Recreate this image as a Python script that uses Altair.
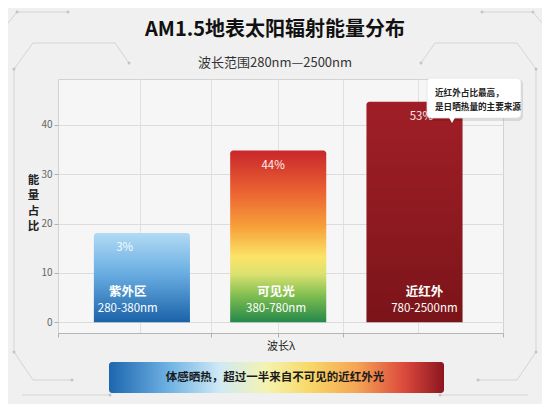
import altair as alt
import pandas as pd

FONT = "Noto Sans CJK SC"

# ---- data ----
regions = ["紫外区", "可见光", "近红外"]
ranges = ["280-380nm", "380-780nm", "780-2500nm"]
bar_heights = [18.1, 34.8, 44.7]
pct_labels = ["3%", "44%", "53%"]
y_ticks = [0, 10, 20, 30, 40]
title_text = "AM1.5地表太阳辐射能量分布"
subtitle_text = "波长范围280nm—2500nm"
y_title = "能量占比"
x_title = "波长λ"
note_lines = ["近红外占比最高，", "是日晒热量的主要来源"]
banner_text = "体感晒热，超过一半来自不可见的近红外光"

df = pd.DataFrame({"region": regions, "range": ranges, "value": bar_heights, "pct": pct_labels})
one = pd.DataFrame({"title": [title_text], "subtitle": [subtitle_text],
                    "note": ["\n".join(note_lines)], "banner": [banner_text]})

W, H = 445, 254
OX, OY = 58, 79  # plot origin on the page (used only for decorative frame)

xband = alt.X("region:N", sort=regions,
              scale=alt.Scale(domain=regions, paddingInner=0.295, paddingOuter=0.28, align=0.47),
              axis=None)
yscale = alt.Scale(domain=[-2.2, 49.3], nice=False)
yaxis = alt.Axis(values=y_ticks, grid=True, gridColor="#dcdcdc", domain=False,
                 tickSize=4, tickColor="#b0b0b0", labelPadding=2, labelFontSize=10,
                 labelColor="#666666", labelFont=FONT,
                 title=list(y_title), titleAngle=0, titleX=-25, titleY=101,
                 titleAlign="center", titleBaseline="middle", titleLineHeight=15.5,
                 titleFontSize=11.5, titleFontWeight="bold", titleColor="#222222",
                 titleFont=FONT)
yenc = alt.Y("value:Q", scale=yscale, axis=yaxis)
y0 = alt.YDatum(0, scale=yscale, axis=yaxis)

base = alt.Chart(df)

def grad_v(stops):
    return alt.LinearGradient(gradient="linear", x1=0, x2=0, y1=0, y2=1,
                              stops=[alt.GradientStop(offset=o, color=c) for o, c in stops])

bar_grads = {
    "紫外区": [(0, "#b2daf4"), (0.45, "#6aaee2"), (1, "#1b63a9")],
    "可见光": [(0, "#c9262b"), (0.25, "#ec6532"), (0.45, "#f7a23a"), (0.62, "#fbe468"),
            (0.72, "#dbe16f"), (0.85, "#7dbd50"), (1, "#25884a")],
    "近红外": [(0, "#a01e26"), (0.5, "#8f1a21"), (1, "#7a1419")],
}

bar_layers = []
for r in regions:
    bar_layers.append(
        base.transform_filter(alt.datum.region == r)
        .mark_bar(color=grad_v(bar_grads[r]), cornerRadiusTopLeft=3, cornerRadiusTopRight=3)
        .encode(x=xband, y=yenc, y2=alt.Y2Datum(0))
    )

pct_text = base.mark_text(font=FONT, fontSize=11.5, color="#ffffff", opacity=0.92,
                          baseline="middle", dy=15, dx=-3).encode(x=xband, y=yenc, text="pct:N")
name_text = base.mark_text(font=FONT, fontSize=12.5, fontWeight="bold", color="#ffffff",
                           baseline="middle", dy=-30).encode(x=xband, y=y0, text="region:N")
range_text = base.mark_text(font=FONT, fontSize=11.5, color="#ffffff",
                            baseline="middle", dy=-13).encode(x=xband, y=y0, text="range:N")

# vertical grid (axis only) and bottom wavelength axis
vgrid = [82, 153, 220, 285, 360]
grid_layer = alt.Chart(one).mark_point(opacity=0).encode(
    x=alt.XDatum(0, type="quantitative", scale=alt.Scale(domain=[0, W], nice=False),
                 axis=alt.Axis(orient="top", values=vgrid, grid=True, gridColor="#e0e0e0",
                               labels=False, ticks=False, domain=False, title=None)),
    y=alt.value(0))
xaxis_layer = alt.Chart(one).mark_point(opacity=0).encode(
    x=alt.XDatum(0, type="quantitative", scale=alt.Scale(domain=[0, W], nice=False),
                 axis=alt.Axis(orient="bottom", values=[0, 153, 220, 285, W], grid=False,
                               labels=False, ticks=True, tickSize=4, tickColor="#b0b0b0",
                               domain=True, domainColor="#b5b5b5", title=x_title,
                               titleFont=FONT, titleFontSize=11, titleFontWeight="normal",
                               titleColor="#222222", titlePadding=3)),
    y=alt.value(0))

# decorative background frame (page-pixel segments, converted to plot-relative)
segs_left = [((0, 33), (17, 12)), ((17, 12), (68, 12)),
             ((14, 69), (33, 43)), ((33, 43), (115, 43)), ((115, 43), (129, 63)),
             ((14, 69), (14, 352)), ((14, 352), (33, 380)), ((33, 380), (72, 380)),
             ((22, 395), (110, 395))]
dots_left = [(17, 12), (68, 12), (14, 69), (129, 63), (14, 352), (72, 380), (110, 395)]
segs = segs_left + [((550 - a[0], a[1]), (550 - b[0], b[1])) for a, b in segs_left]
dots = dots_left + [(550 - x, y) for x, y in dots_left]
deco_layers = []
for (a, b) in segs:
    deco_layers.append(alt.Chart(one).mark_rule(color="#cdcdcd", strokeWidth=0.8).encode(
        x=alt.value(a[0] - OX), y=alt.value(a[1] - OY),
        x2=alt.value(b[0] - OX), y2=alt.value(b[1] - OY)))
for (x, y) in dots:
    deco_layers.append(alt.Chart(one).mark_circle(color="#c4c4c4", size=9, opacity=1).encode(
        x=alt.value(x - OX), y=alt.value(y - OY)))

# title & subtitle
title_layer = alt.Chart(one).mark_text(font=FONT, fontSize=20, fontWeight="bold",
                                       color="#111111", baseline="middle").encode(
    x=alt.value(217), y=alt.value(-49), text="title:N")
subtitle_layer = alt.Chart(one).mark_text(font=FONT, fontSize=13, color="#333333",
                                          baseline="middle").encode(
    x=alt.value(217), y=alt.value(-16), text="subtitle:N")

# callout
shadow = alt.Chart(one).mark_rect(color="#000000", opacity=0.10, cornerRadius=5).encode(
    x=alt.value(370), x2=alt.value(465), y=alt.value(0), y2=alt.value(42))
box = alt.Chart(one).mark_rect(color="#ffffff", stroke="#e2e2e2", strokeWidth=0.8,
                               cornerRadius=4).encode(
    x=alt.value(369), x2=alt.value(463), y=alt.value(-1), y2=alt.value(39))
pointer = alt.Chart(one).mark_point(shape="triangle-down", filled=True, color="#ffffff",
                                    opacity=1, size=45).encode(
    x=alt.value(394), y=alt.value(41))
note_text = alt.Chart(one).mark_text(font=FONT, fontSize=8.6, fontWeight="bold",
                                     color="#222222", align="left", baseline="middle",
                                     lineBreak="\n", lineHeight=14).encode(
    x=alt.value(377), y=alt.value(14), text="note:N")

# bottom banner
banner_grad = alt.LinearGradient(
    gradient="linear", x1=0, x2=1, y1=0, y2=0,
    stops=[alt.GradientStop(offset=o, color=c) for o, c in [
        (0, "#1d66ae"), (0.18, "#6fb2e4"), (0.33, "#cfe9f5"), (0.47, "#f4f3b0"),
        (0.6, "#f8d866"), (0.74, "#f5a455"), (0.88, "#dc4a3c"), (1, "#8c1620")]])
banner = alt.Chart(one).mark_rect(color=banner_grad, cornerRadius=3).encode(
    x=alt.value(51), x2=alt.value(386), y=alt.value(283), y2=alt.value(314))
banner_txt = alt.Chart(one).mark_text(font=FONT, fontSize=11.5, fontWeight="bold",
                                      color="#1a1a1a", baseline="middle").encode(
    x=alt.value(217), y=alt.value(299), text="banner:N")

chart = alt.layer(
    *deco_layers, grid_layer, xaxis_layer, *bar_layers, pct_text, name_text, range_text,
    title_layer, subtitle_layer, shadow, box, pointer, note_text, banner, banner_txt
).resolve_scale(x="independent").properties(
    width=W, height=H,
    autosize=alt.AutoSizeParams(type="none"),
    padding={"left": 50, "top": 71, "right": 39, "bottom": 71},
    background="#f0f0f0",
).configure_view(stroke="#d2d2d2", fill="#f6f6f6", strokeWidth=1)

chart.save("out.html", embed_options={"renderer": "svg", "actions": False})
